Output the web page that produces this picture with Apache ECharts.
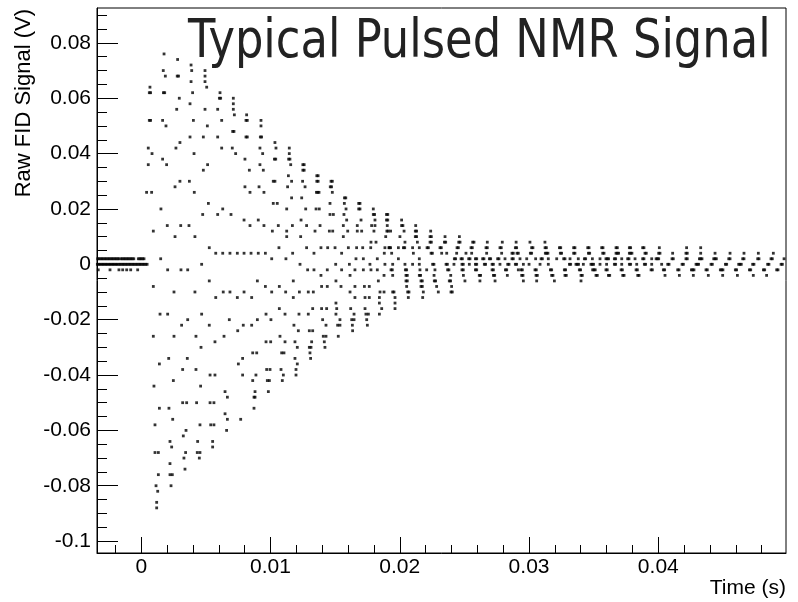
<!DOCTYPE html>
<html>
<head>
<meta charset="utf-8">
<script src="https://cdn.jsdelivr.net/npm/echarts@6/dist/echarts.min.js"></script>
<style>
  html, body { margin: 0; padding: 0; background: #fff; }
  #chart { width: 798px; height: 602px; }
</style>
</head>
<body>
<div id="chart"></div>
<script>
// Raw FID samples from the digitiser, grouped by quantised level.
// Each row: [level in mV, [sample times in ms]].

const preTrigger = [
  [2, [-3.37, -3.26, -3.15, -3.04, -2.93, -2.82, -2.71, -2.60, -2.49, -2.38, -2.27, -2.16, -2.05, -1.94, -1.83, -1.73,
       -1.57, -1.46, -1.35, -1.24, -1.13, -1.02, -0.91, -0.80, -0.69, -0.58, -0.23, -0.12, -0.01, 0.10, 0.21]],
  [0, [-3.40, -3.29, -3.18, -3.07, -2.96, -2.85, -2.74, -2.63, -2.52, -2.41, -2.30, -2.19, -2.08, -1.97, -1.86, -1.75,
       -1.64, -1.53, -1.42, -1.31, -1.20, -1.09, -0.98, -0.87, -0.76, -0.65, -0.54, -0.43, -0.32, -0.21, -0.10, 0.01,
       0.12, 0.23, 0.34, 0.45]],
  [-2, [-3.33, -2.42, -1.73, -1.44, -1.13, -0.82, -0.28]]
];

const burstUpper = [
  [76, [1.76]],
  [74, [2.81]],
  [72, [3.85]],
  [70, [1.70, 3.90, 4.93]],
  [68, [1.86, 2.78, 2.88, 4.93]],
  [66, [3.85, 4.93]],
  [64, [0.67, 5.06]],
  [62, [0.62, 0.72, 1.71, 1.81, 3.97, 6.09]],
  [60, [2.94, 6.04, 6.14, 7.12]],
  [58, [3.77, 7.12]],
  [56, [2.74, 4.93, 5.91, 7.12]],
  [54, [7.20, 8.15]],
  [52, [0.62, 0.72, 1.65, 4.03, 6.22, 8.10, 8.20, 9.26]],
  [50, [1.91, 5.11, 9.26]],
  [48, [7.07, 7.17]],
  [46, [3.77, 4.80, 5.91, 8.10, 8.20, 9.21, 9.31]],
  [44, [2.99]],
  [42, [0.54, 2.68, 6.22, 7.04]],
  [40, [0.83, 4.08, 7.30]],
  [38, [1.65]],
  [36, [0.54, 1.96, 5.13]],
  [34, [4.80]],
  [30, [2.99, 3.72]],
  [28, [2.61]],
  [26, [0.41, 0.80, 4.10]],
  [22, [5.19]],
  [20, [1.52, 6.30]],
  [18, [4.75, 5.91, 6.94]],
  [14, [2.01, 3.05, 3.69]],
  [12, [0.93]],
  [10, [2.61, 4.15]]
];

const burstNearZero = [
  [6, [5.26]],
  [4, [5.76, 6.30, 6.86, 7.43]],
  [2, [1.50]],
  [0, [4.67]],
  [-2, [2.04, 3.07, 3.59]],
  [-6, [5.26]],
  [-8, [0.93]],
  [-10, [2.53, 4.15, 6.34, 6.86]],
  [-12, [5.76, 7.43]]
];

const burstLower = [
  [-18, [1.45, 2.04, 4.67]],
  [-20, [3.59, 6.81]],
  [-22, [3.12, 5.26]],
  [-24, [7.46]],
  [-26, [0.93, 2.53, 4.23, 6.40]],
  [-28, [5.70]],
  [-30, [4.62]],
  [-34, [2.12, 3.56]],
  [-36, [1.40, 7.51]],
  [-38, [3.20, 4.23]],
  [-40, [5.32, 5.70]],
  [-42, [2.48]],
  [-44, [0.98, 4.59]],
  [-46, [6.48]],
  [-48, [6.66]],
  [-50, [3.20, 3.51, 4.28, 5.32, 5.62]],
  [-52, [1.40, 2.14, 8.72]],
  [-54, [6.48]],
  [-56, [2.43, 6.66, 7.69]],
  [-58, [1.06, 4.54, 5.37, 5.62]],
  [-60, [3.46, 6.60]],
  [-62, [3.25]],
  [-64, [2.22, 4.36, 5.52]],
  [-66, [2.35, 5.52]],
  [-68, [1.06, 1.32, 3.43, 4.33, 4.54]],
  [-70, [3.30, 4.49]],
  [-72, [2.22]],
  [-74, [3.38]],
  [-76, [1.32, 2.22, 2.40]],
  [-80, [1.14, 2.30]],
  [-82, [1.27]],
  [-86, [1.19]],
  [-88, [1.19]]
];

const midUpper = [
  [44, [10.34]],
  [42, [9.18, 10.42, 11.45]],
  [40, [9.39, 11.45]],
  [38, [8.02, 10.30, 10.40, 11.40, 11.50]],
  [36, [9.18, 11.56, 12.50, 12.60]],
  [34, [8.36, 9.44, 12.50, 12.60]],
  [32, [11.38, 13.58, 13.68]],
  [30, [10.21, 10.34, 11.63, 12.48, 13.58, 13.68, 14.68, 14.78]],
  [28, [8.02, 9.11, 11.32, 12.67, 14.62, 14.72]],
  [26, [8.41, 9.49, 13.55, 13.65, 13.75, 14.78]],
  [24, [11.63, 12.41, 15.72, 15.82]],
  [22, [10.21, 10.52, 14.60, 15.71, 16.82, 16.92]],
  [20, [11.25, 12.72, 13.52, 13.77, 15.84, 16.82, 16.92, 17.95]],
  [18, [14.60, 14.86, 15.68, 17.95, 18.05, 18.97, 19.07]],
  [16, [7.95, 9.05, 12.36, 15.89, 17.00, 18.08, 18.97, 19.07]],
  [14, [8.41, 9.49, 10.60, 11.69, 12.79, 13.83, 15.63, 16.71, 17.82, 18.08, 19.03]],
  [12, [10.14, 11.25, 13.44, 14.55, 14.81, 15.97, 16.71, 17.05, 18.00, 19.00, 19.10]],
  [10, [11.25, 12.33, 15.63, 18.91]],
  [8, [17.77, 18.16]],
  [6, [10.65, 12.79, 13.90, 14.42, 14.99, 16.02, 16.66, 17.13, 17.75, 18.85, 19.16]],
  [4, [7.95, 8.49, 9.05, 9.60, 11.71, 13.36, 15.50, 18.80]],
  [2, [10.09, 11.19, 16.61, 17.18, 18.26]],
  [0, [12.28, 15.04, 16.10, 17.69, 18.85]],
  [-2, [12.87, 13.36, 14.39, 15.50, 16.53, 17.18, 17.77, 18.26]],
  [-4, [13.90, 16.15, 18.78]],
  [-6, [8.98, 11.76, 15.06, 18.34]],
  [-8, [9.60, 10.68, 13.95, 14.39, 15.45, 16.53, 17.26, 17.64]]
];

const midLower = [
  [-10, [7.95, 10.09, 11.17, 12.23, 12.92, 13.31, 16.15, 18.47, 18.78]],
  [-12, [8.54, 11.76, 16.53, 17.31, 17.64, 18.42]],
  [-14, [15.06, 18.42, 19.63]],
  [-16, [10.68, 13.26, 13.95, 14.34, 15.12, 16.20, 17.31, 18.60, 19.63]],
  [-18, [9.65, 11.12, 12.20, 12.92, 15.06, 16.46, 17.38, 17.57, 18.42]],
  [-20, [8.98, 10.03, 14.03, 15.37, 16.28, 16.46, 17.44]],
  [-22, [7.89, 8.54, 11.81, 14.29, 15.19, 15.37, 16.33, 17.49]],
  [-24, [12.15, 13.00, 13.26, 16.35]],
  [-26, [10.73, 14.08, 14.29, 15.24]],
  [-28, [9.65, 10.01, 11.12, 11.89, 13.18, 14.16]],
  [-30, [12.07, 13.00, 13.13, 14.21]],
  [-32, [8.62, 8.93, 10.86, 11.04, 13.05]],
  [-34, [7.84, 11.89, 13.10]],
  [-36, [12.07]],
  [-38, [9.70, 9.96, 10.81, 11.97]],
  [-40, [7.84, 8.87, 10.99, 11.97]],
  [-42, [8.62, 9.75, 9.91, 10.91]],
  [-46, [8.80, 9.83]],
  [-48, [8.72, 8.80]]
];

const decay = [
  [16, [20.14]],
  [14, [20.14, 20.24, 21.23]],
  [12, [19.29, 20.33, 21.20, 21.30, 22.39]],
  [10, [20.01, 21.20, 21.30, 22.34, 22.44, 23.50, 24.61]],
  [8, [20.40, 21.36, 22.34, 22.44, 23.45, 23.55, 24.56, 24.66, 25.64, 25.74, 26.77, 27.93, 29.00]],
  [6, [19.19, 19.29, 19.89, 20.28, 20.38, 20.99, 21.51, 22.11, 22.21, 23.11, 23.21, 24.43, 24.53, 25.51, 25.61,
       26.67, 26.77, 27.75, 27.85, 28.94, 29.04]],
  [4, [19.37, 21.05, 22.42, 22.52, 23.24, 23.63, 24.40, 25.12, 25.56, 26.72, 27.88, 28.68, 28.78]],
  [2, [19.89, 21.51, 24.22, 24.32, 24.74, 24.84, 25.33, 25.43, 25.85, 25.95, 26.41, 26.51, 26.93, 27.03, 27.57,
       27.67, 28.14, 28.68, 28.78]],
  [0, [19.45, 20.40, 20.99, 21.51, 22.54, 22.64, 23.58, 23.68, 24.19, 24.81, 24.91, 25.38, 25.85, 25.95, 26.54,
       26.64, 27.14, 27.24, 27.75, 28.35, 28.45, 28.94, 29.04]],
  [-2, [19.32, 19.42, 20.43, 20.53, 21.56, 22.08, 22.72, 23.70, 23.80, 24.81, 24.91, 25.85, 25.95, 27.14, 27.24,
        28.17, 28.27, 29.17]],
  [-4, [19.45, 20.48, 20.58, 21.51, 21.61, 22.65, 23.94, 24.92, 26.15, 26.25, 27.24, 27.34, 28.32]],
  [-6, [20.48, 20.58, 21.64, 21.74, 22.67, 22.77, 23.83, 23.93, 25.04, 26.20, 27.37]],
  [-8, [20.53, 21.64, 21.74, 22.85, 24.01]],
  [-10, [19.45, 19.55, 20.61, 20.71, 21.82, 22.98, 23.96, 24.06]],
  [-12, [19.63, 20.66, 21.77]]
];

const tailEarly = [
  [8, [30.07, 31.23]],
  [6, [30.20, 30.30, 31.24, 31.34, 32.35, 32.45, 33.45, 33.55, 34.54, 34.64, 35.62, 35.72, 36.73, 36.83, 37.76,
       37.86, 38.79, 38.89]],
  [4, [29.07, 29.17, 30.10, 30.20, 31.26, 31.36, 31.46, 32.42, 32.52, 33.45, 33.55, 34.59, 34.69, 35.70, 35.80,
       36.73, 36.83, 36.93, 37.76, 37.86, 37.96, 38.97, 39.07]],
  [2, [29.30, 29.82, 30.51, 30.93, 31.03, 31.49, 32.14, 32.68, 32.78, 33.17, 33.81, 34.28, 34.38, 34.90, 35.49,
       35.95, 36.05, 36.15, 36.60, 36.70, 37.17, 37.63, 37.73, 38.20, 38.79, 38.89, 39.49]],
  [0, [29.56, 30.00, 30.85, 31.49, 33.12, 33.22, 33.63, 33.73, 33.83, 34.20, 34.79, 34.89, 34.99, 35.49, 36.00,
       36.60, 36.70, 37.17, 37.76, 37.86, 38.33, 38.92, 39.02, 39.49]],
  [-2, [29.38, 29.48, 30.46, 30.56, 31.65, 31.75, 32.73, 32.83, 33.89, 33.99, 34.92, 35.02, 35.12, 35.95, 36.05,
        37.12, 37.22, 38.28, 38.38, 39.44, 39.54]],
  [-4, [29.43, 29.53, 30.54, 30.64, 31.75, 31.85, 32.78, 32.88, 34.02, 34.12, 35.18, 35.28, 36.14, 36.24, 37.25,
        37.35, 38.41, 38.51]],
  [-6, [29.56, 30.59, 31.96, 34.02]]
];

const tailLate = [
  [6, [40.08, 42.19, 43.28]],
  [4, [40.03, 40.13, 41.11, 42.14, 42.24, 43.28, 44.39, 45.55, 46.63, 47.74, 48.90]],
  [2, [39.83, 39.93, 40.03, 41.06, 41.16, 42.14, 42.24, 43.18, 43.28, 43.38, 44.29, 44.39, 44.49, 45.45, 45.55,
       46.53, 46.63, 47.69, 47.79, 48.72, 48.82, 49.73]],
  [0, [40.26, 40.73, 40.83, 41.84, 41.94, 42.92, 43.02, 43.12, 44.08, 44.18, 45.19, 45.29, 46.22, 46.32, 46.42,
       47.30, 47.40, 48.46, 48.56, 49.50, 49.60]],
  [-2, [40.39, 40.49, 41.50, 41.60, 42.56, 42.66, 42.76, 43.69, 43.79, 44.80, 44.90, 45.00, 45.96, 46.06, 47.05,
        47.15, 48.13, 48.23, 49.16, 49.26]],
  [-4, [40.52, 41.63, 42.71, 43.87, 44.98, 46.12, 47.35, 48.38]]
];

// Axis ranges (s, V) and tick positions
const xRange = [-0.003427, 0.04988];
const yRange = [-0.1043, 0.0926];
const xMajorTicks = [0, 0.01, 0.02, 0.03, 0.04];
const xMinorTicks = [-0.002, 0.002, 0.004, 0.006, 0.008, 0.012, 0.014, 0.016, 0.018, 0.022, 0.024, 0.026, 0.028,
                     0.032, 0.034, 0.036, 0.038, 0.042, 0.044, 0.046, 0.048];
const yMajorTicks = [-0.1, -0.08, -0.06, -0.04, -0.02, 0, 0.02, 0.04, 0.06, 0.08];
const yMinorTicks = [-0.095, -0.09, -0.085, -0.075, -0.07, -0.065, -0.055, -0.05, -0.045, -0.035, -0.03, -0.025,
                     -0.015, -0.01, -0.005, 0.005, 0.01, 0.015, 0.025, 0.03, 0.035, 0.045, 0.05, 0.055,
                     0.065, 0.07, 0.075, 0.085, 0.09];

// Flatten level rows into [seconds, volts] points
function toPoints(rows) {
  const pts = [];
  rows.forEach(([mv, times]) => {
    times.forEach(ms => pts.push([ms / 1000, mv / 1000]));
  });
  return pts;
}

const fidPoints = [].concat(
  toPoints(preTrigger), toPoints(burstUpper), toPoints(burstNearZero), toPoints(burstLower),
  toPoints(midUpper), toPoints(midLower), toPoints(decay), toPoints(tailEarly), toPoints(tailLate)
);

const labelFont = 'Liberation Sans, Arial, sans-serif';
const fmt = v => String(Number(v.toFixed(3)));

const chart = echarts.init(document.getElementById('chart'), null, { renderer: 'canvas' });

chart.setOption({
  animation: false,
  backgroundColor: '#fff',
  grid: {
    left: 97, right: 12, top: 8, bottom: 49,
    show: true, borderColor: '#000', borderWidth: 1,
    containLabel: false, outerBoundsMode: 'none'
  },
  xAxis: [
    {
      type: 'value', position: 'bottom', min: xRange[0], max: xRange[1],
      axisLine: { show: true, onZero: false, lineStyle: { color: '#000', width: 1 } },
      axisTick: { show: true, inside: true, length: 16, customValues: xMajorTicks, lineStyle: { color: '#000' } },
      axisLabel: { show: true, customValues: xMajorTicks, formatter: fmt, margin: 4,
                   color: '#000', fontSize: 21, fontFamily: labelFont },
      splitLine: { show: false }
    },
    {
      type: 'value', position: 'bottom', min: xRange[0], max: xRange[1],
      axisLine: { show: false, onZero: false },
      axisTick: { show: true, inside: true, length: 8, customValues: xMinorTicks, lineStyle: { color: '#000' } },
      axisLabel: { show: false },
      splitLine: { show: false }
    }
  ],
  yAxis: [
    {
      type: 'value', position: 'left', min: yRange[0], max: yRange[1],
      axisLine: { show: true, onZero: false, lineStyle: { color: '#000', width: 1 } },
      axisTick: { show: true, inside: true, length: 21, customValues: yMajorTicks, lineStyle: { color: '#000' } },
      axisLabel: { show: true, customValues: yMajorTicks, formatter: fmt, margin: 6,
                   color: '#000', fontSize: 21, fontFamily: labelFont },
      splitLine: { show: false }
    },
    {
      type: 'value', position: 'left', min: yRange[0], max: yRange[1],
      axisLine: { show: false, onZero: false },
      axisTick: { show: true, inside: true, length: 10, customValues: yMinorTicks, lineStyle: { color: '#000' } },
      axisLabel: { show: false },
      splitLine: { show: false }
    }
  ],
  graphic: [
    {
      type: 'text', x: 188, y: 43, scaleX: 0.83, silent: true,
      style: { text: 'Typical Pulsed NMR Signal', fontSize: 54, fontFamily: 'DejaVu Sans',
               fill: '#222', align: 'left', verticalAlign: 'middle' }
    },
    {
      type: 'text', x: 24, y: 9, rotation: Math.PI / 2, silent: true,
      style: { text: 'Raw FID Signal (V)', fontSize: 22, fontFamily: labelFont,
               fill: '#000', align: 'right', verticalAlign: 'middle' }
    },
    {
      type: 'text', x: 786, y: 588, silent: true,
      style: { text: 'Time (s)', fontSize: 21, fontFamily: labelFont,
               fill: '#000', align: 'right', verticalAlign: 'middle' }
    }
  ],
  series: [
    {
      type: 'scatter', xAxisIndex: 0, yAxisIndex: 0,
      data: fidPoints, symbol: 'rect', symbolSize: 2.8,
      itemStyle: { color: '#000' }, silent: true, clip: true
    }
  ]
});
</script>
</body>
</html>
